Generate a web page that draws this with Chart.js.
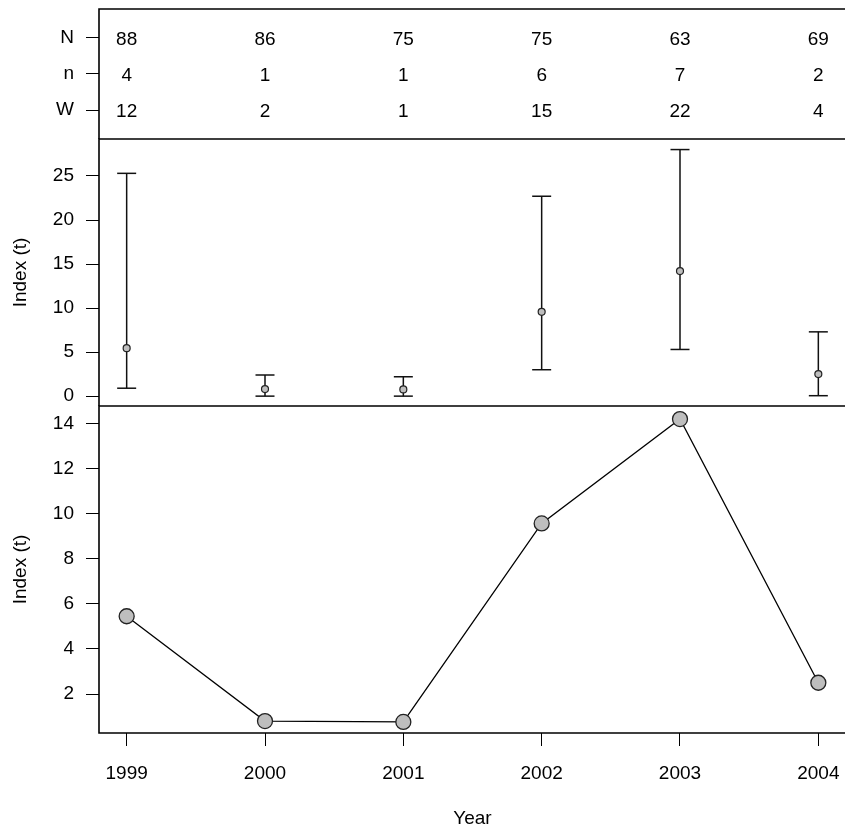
<!DOCTYPE html>
<html>
<head>
<meta charset="utf-8">
<script src="https://cdn.jsdelivr.net/npm/chart.js@4.4.1/dist/chart.umd.min.js"></script>
<style>
html, body { margin: 0; padding: 0; background: #fff; width: 845px; height: 830px; overflow: hidden; }
#wrap { position: relative; width: 845px; height: 830px; overflow: hidden; }
canvas { position: absolute; left: 0; }
</style>
</head>
<body>
<div id="wrap">
  <canvas id="cA" width="860" height="150" style="top:0px;width:860px;height:150px"></canvas>
  <canvas id="cB" width="860" height="292" style="top:128px;width:860px;height:292px"></canvas>
  <canvas id="cC" width="860" height="435" style="top:395px;width:860px;height:435px"></canvas>
</div>
<script>
// ---- data ----
const years = [1999, 2000, 2001, 2002, 2003, 2004];
const rowLabels = ['W', 'n', 'N'];          // rows at y = 1, 2, 3
const rowN = [88, 86, 75, 75, 63, 69];
const rowSmallN = [4, 1, 1, 6, 7, 2];
const rowW = [12, 2, 1, 15, 22, 4];
const indexValues = [5.45, 0.8, 0.76, 9.57, 14.2, 2.5];
const lowerCI = [0.9, 0, 0, 3.0, 5.3, 0.05];
const upperCI = [25.3, 2.4, 2.2, 22.7, 28.0, 7.3];
const midTicks = [0, 5, 10, 15, 20, 25];
const bottomTicks = [2, 4, 6, 8, 10, 12, 14];
const xLabel = 'Year';
const yLabel = 'Index (t)';

// ---- common styling ----
const FONT = "'Liberation Sans', Arial, Helvetica, sans-serif";
const FS = 19;
const GRAY = '#bebebe';
const xMin = 1998.8, xMax = 2004.2;

function framePlugin(drawBottom) {
  return {
    id: 'frame',
    afterDraw(chart) {
      const { ctx, chartArea: a } = chart;
      ctx.save();
      ctx.strokeStyle = '#000';
      ctx.lineWidth = 1.6;
      ctx.beginPath();
      ctx.moveTo(a.right + 2, a.top);
      ctx.lineTo(a.left, a.top);
      ctx.lineTo(a.left, a.bottom);
      if (drawBottom) ctx.lineTo(a.right + 2, a.bottom);
      ctx.stroke();
      ctx.restore();
    }
  };
}

function noPad(s) {
  s.paddingTop = 0; s.paddingBottom = 0; s.paddingLeft = 0; s.paddingRight = 0;
}

function yAxis(min, max, tickVals, labelFn, showTitle) {
  return {
    type: 'linear',
    min: min, max: max,
    afterBuildTicks: (s) => { s.ticks = tickVals.map(v => ({ value: v })); },
    afterFit: (s) => { s.width = 99; noPad(s); },
    border: { display: false },
    grid: { drawOnChartArea: false, drawTicks: true, tickLength: 13, color: '#000', lineWidth: 1 },
    ticks: { color: '#000', font: { family: FONT, size: FS }, padding: 12, callback: labelFn },
    title: { display: showTitle, text: yLabel, color: '#000', font: { family: FONT, size: FS }, padding: { top: 9, bottom: 0 } }
  };
}

function hiddenX() {
  return { type: 'linear', min: xMin, max: xMax, display: false };
}

const baseOpts = {
  responsive: false,
  devicePixelRatio: 1,
  animation: false,
  events: [],
  plugins: { legend: { display: false }, tooltip: { enabled: false } }
};

// ---- top table panel ----
const tablePlugin = {
  id: 'table',
  afterDatasetsDraw(chart) {
    const { ctx } = chart;
    const xs = chart.scales.x, ys = chart.scales.y;
    const rows = [[3, rowN], [2, rowSmallN], [1, rowW]];
    ctx.save();
    ctx.fillStyle = '#000';
    ctx.font = FS + 'px ' + FONT;
    ctx.textAlign = 'center';
    ctx.textBaseline = 'middle';
    rows.forEach(([r, vals]) => {
      vals.forEach((v, i) => {
        ctx.fillText(String(v), xs.getPixelForValue(years[i]), ys.getPixelForValue(r) + 2);
      });
    });
    ctx.restore();
  }
};

new Chart(document.getElementById('cA'), {
  type: 'scatter',
  data: { datasets: [] },
  options: Object.assign({}, baseOpts, {
    layout: { padding: { top: 9, bottom: 11, left: 0, right: 14 } },
    scales: {
      x: hiddenX(),
      y: yAxis(0.2, 3.8, [1, 2, 3], (v) => rowLabels[v - 1], false)
    }
  }),
  plugins: [framePlugin(false), tablePlugin]
});

// ---- middle error-bar panel ----
const stemData = [];
years.forEach((yr, i) => {
  stemData.push({ x: yr, y: lowerCI[i] });
  stemData.push({ x: yr, y: upperCI[i] });
  stemData.push({ x: yr, y: null });
});
const capData = [];
years.forEach((yr, i) => {
  capData.push({ x: yr, y: lowerCI[i] });
  capData.push({ x: yr, y: upperCI[i] });
});

new Chart(document.getElementById('cB'), {
  type: 'scatter',
  data: {
    datasets: [
      {
        type: 'scatter',
        data: years.map((yr, i) => ({ x: yr, y: indexValues[i] })),
        pointRadius: 3.5, pointBackgroundColor: GRAY, pointBorderColor: '#222', pointBorderWidth: 1.2
      },
      {
        type: 'scatter',
        data: capData,
        pointStyle: 'line', pointRadius: 9.5, pointBorderColor: '#111', pointBorderWidth: 1.5
      },
      {
        type: 'line',
        data: stemData,
        spanGaps: false, borderColor: '#111', borderWidth: 1.5, pointRadius: 0, fill: false
      }
    ]
  },
  options: Object.assign({}, baseOpts, {
    layout: { padding: { top: 9, bottom: 14, left: 0, right: 14 } },
    scales: {
      x: hiddenX(),
      y: yAxis(-1.12, 29.2, midTicks, (v) => String(v), true)
    }
  }),
  plugins: [framePlugin(false)]
});

// ---- bottom line panel ----
new Chart(document.getElementById('cC'), {
  type: 'line',
  data: {
    datasets: [{
      data: years.map((yr, i) => ({ x: yr, y: indexValues[i] })),
      borderColor: '#000', borderWidth: 1.3, tension: 0, fill: false,
      pointRadius: 7.5, pointBackgroundColor: GRAY, pointBorderColor: '#222', pointBorderWidth: 1.3
    }]
  },
  options: Object.assign({}, baseOpts, {
    layout: { padding: { top: 11, bottom: 0, left: 0, right: 14 } },
    scales: {
      x: {
        type: 'linear', min: xMin, max: xMax,
        afterBuildTicks: (s) => { s.ticks = years.map(v => ({ value: v })); },
        afterFit: (s) => { s.height = 97; noPad(s); },
        border: { display: false },
        grid: { drawOnChartArea: false, drawTicks: true, tickLength: 13, color: '#000', lineWidth: 1 },
        ticks: { color: '#000', font: { family: FONT, size: FS }, padding: 16, maxRotation: 0, autoSkip: false, callback: (v) => String(v) },
        title: { display: true, text: xLabel, color: '#000', font: { family: FONT, size: FS }, padding: { top: 0, bottom: 0 } }
      },
      y: yAxis(0.27, 14.78, bottomTicks, (v) => String(v), true)
    }
  }),
  plugins: [framePlugin(true)]
});
</script>
</body>
</html>
